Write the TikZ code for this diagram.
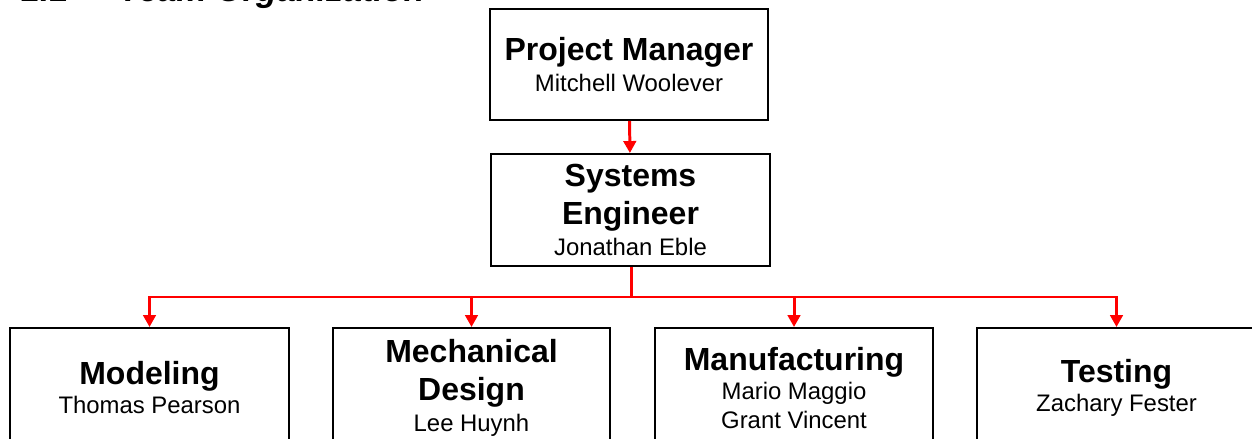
\documentclass[tikz,border=0pt]{standalone}
\usepackage{fontspec}
\setmainfont{Liberation Sans}
\usepackage{tikz}
\usetikzlibrary{arrows.meta}
\usetikzlibrary{calc}

\newcommand{\roletitle}[1]{{\bfseries\fontsize{18.2}{22}\selectfont #1}}

\begin{document}
\begin{tikzpicture}[box/.style={draw,line width=1.1pt,align=center,inner sep=0pt,font=\fontsize{13.6}{16.5}\selectfont},
  link/.style={red,line width=1.7pt,-{Triangle[width=0.25cm,length=0.24cm]}}]
  \useasboundingbox (0,0) rectangle (25.04,-8.78);
  \node[anchor=base west,font=\bfseries\itshape\fontsize{19.4}{23}\selectfont] (num) at (0.3,-0.025) {1.1};
  \node[anchor=base west,font=\bfseries\itshape\fontsize{19.4}{23}\selectfont] (heading) at (2.26,-0.025) {Team Organization};
  \node[box,minimum width=5.56cm,minimum height=2.22cm] (pm) at (12.58,-1.29) {\roletitle{Project Manager}\\[1.5pt]Mitchell Woolever};
  \node[box,minimum width=5.58cm,minimum height=2.24cm] (se) at (12.61,-4.2) {\roletitle{Systems}\\[4pt]\roletitle{Engineer}\\[1pt]Jonathan Eble};
  \node[box,minimum width=5.58cm,minimum height=2.4cm] (model) at (2.99,-7.76) {\roletitle{Modeling}\\Thomas Pearson};
  \node[box,minimum width=5.54cm,minimum height=2.4cm] (mech) at (9.43,-7.76) {\roletitle{Mechanical}\\[5pt]\roletitle{Design}\\[1pt]Lee Huynh};
  \node[box,minimum width=5.56cm,minimum height=2.4cm] (manu) at (15.88,-7.76) {\roletitle{Manufacturing}\\Mario Maggio\\Grant Vincent};
  \node[box,minimum width=5.58cm,minimum height=2.4cm] (test) at (22.33,-7.76) {\roletitle{Testing}\\Zachary Fester};
  \coordinate (bus) at (12.62,-5.94);

  \draw[link] (pm) -- (se);
  \draw[link] (se.south -| bus) -- (bus) -| (model.north);
  \draw[link] (bus) -| (mech.north);
  \draw[link] (bus) -| (manu.north);
  \draw[link] (bus) -| (test.north);
\end{tikzpicture}
\end{document}
